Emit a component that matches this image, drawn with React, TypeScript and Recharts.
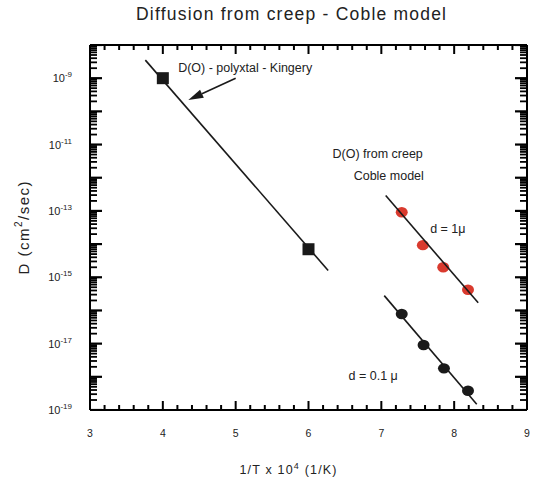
import React from "react";
import { ComposedChart, XAxis, YAxis, Scatter, ReferenceLine, ReferenceDot } from "recharts";

// x axis: 1/T x 10^4, labelled every 1, minor ticks every 0.2
const xLabels = [3, 4, 5, 6, 7, 8, 9];
const xMinorStep = 0.2;
// y axis: log scale, decades 1e-19 .. 1e-8, labels on odd exponents
const yDecades = [-19, -18, -17, -16, -15, -14, -13, -12, -11, -10, -9, -8];
const yLabelExps = [-19, -17, -15, -13, -11, -9];

// D(O) polycrystal - Kingery
const kingeryPts = [
  { x: 4.0, y: 1.0e-9 },
  { x: 6.0, y: 7.0e-15 },
];
const kingeryFit = [
  { x: 3.76, y: 3.5e-9 },
  { x: 6.27, y: 1.6e-15 },
];

// D(O) from creep, Coble model, d = 1 micron
const coble1Pts = [
  { x: 7.28, y: 9.1e-14 },
  { x: 7.57, y: 9.3e-15 },
  { x: 7.85, y: 2.0e-15 },
  { x: 8.19, y: 4.2e-16 },
];
const coble1Fit = [
  { x: 7.06, y: 2.9e-13 },
  { x: 8.33, y: 1.7e-16 },
];

// d = 0.1 micron
const coble01Pts = [
  { x: 7.28, y: 7.8e-17 },
  { x: 7.58, y: 9.1e-18 },
  { x: 7.86, y: 1.8e-18 },
  { x: 8.19, y: 3.8e-19 },
];
const coble01Fit = [
  { x: 7.04, y: 2.8e-16 },
  { x: 8.31, y: 1.5e-19 },
];

// arrow pointing at the Kingery line
const arrowSeg = [
  { x: 5.0, y: 1.0e-9 },
  { x: 4.35, y: 2.2e-10 },
];

const FONT = "'Liberation Sans', Arial, Helvetica, sans-serif";
const RED = "#d93a2e";
const INK = "#1a1a1a";
const X_MIN = 3;
const X_MAX = 9;
const Y_MIN = 1e-19;
const Y_MAX = 1e-8;

const xTicks: number[] = [];
for (let v = xLabels[0]; v <= xLabels[xLabels.length - 1] + 1e-9; v += xMinorStep) {
  xTicks.push(Math.round(v * 10) / 10);
}
const yTicks: number[] = [];
yDecades.forEach((e, i) => {
  const top = i === yDecades.length - 1;
  for (let m = 1; m <= (top ? 1 : 9); m++) yTicks.push(m * Math.pow(10, e));
});
const yLabelTicks = yLabelExps.map((e) => Math.pow(10, e));

const decadeOf = (v: number) => Math.floor(Math.log10(v) + 1e-9);
const isDecade = (v: number) => Math.abs(v / Math.pow(10, decadeOf(v)) - 1) < 0.01;
const isWhole = (v: number) => Math.abs(v - Math.round(v)) < 1e-6;

// anchor points for the inward tick marks on the four sides of the frame
const leftTickPts = yTicks.map((v) => ({ x: X_MIN, y: v, major: isDecade(v) }));
const rightTickPts = yTicks.map((v) => ({ x: X_MAX, y: v, major: isDecade(v) }));
const bottomTickPts = xTicks.map((v) => ({ x: v, y: Y_MIN, major: isWhole(v) }));
const topTickPts = xTicks.map((v) => ({ x: v, y: Y_MAX, major: isWhole(v) }));

const tickDir = (dx: number, dy: number) => (p: any) => {
  const major = p.payload && p.payload.major;
  const len = dx !== 0 ? (major ? 12 : 7) : major ? 9 : 5;
  const w = dx !== 0 ? (major ? 2.2 : 1.8) : 2;
  return <line x1={p.cx} y1={p.cy} x2={p.cx + dx * len} y2={p.cy + dy * len} stroke="#000" strokeWidth={w} />;
};

const LeftLabel = (props: any) => {
  const { x, y, payload } = props;
  const exp = decadeOf(payload.value);
  return (
    <text x={x - 18} y={y + 4} textAnchor="end" fontFamily={FONT} fontSize={11} fill="#222">
      10
      <tspan dy={-5} fontSize={8}>
        {exp}
      </tspan>
    </text>
  );
};

const BottomLabel = (props: any) => {
  const { x, y, payload } = props;
  return (
    <text x={x} y={y + 27} textAnchor="middle" fontFamily={FONT} fontSize={10.5} fill="#222">
      {Math.round(payload.value)}
    </text>
  );
};

const Square = (p: any) => <rect x={p.cx - 6} y={p.cy - 6} width={12} height={12} fill={INK} />;
const RedDot = (p: any) => <ellipse cx={p.cx} cy={p.cy} rx={6} ry={5.2} fill={RED} />;
const BlackDot = (p: any) => <ellipse cx={p.cx} cy={p.cy} rx={6} ry={5.2} fill={INK} />;
const NoShape = () => <g />;

const Arrow = (p: any) => {
  const { x1, y1, x2, y2 } = p;
  const ang = Math.atan2(y2 - y1, x2 - x1);
  const len = 15;
  const half = 4.5;
  const bx = x2 - len * Math.cos(ang);
  const by = y2 - len * Math.sin(ang);
  const nx = -Math.sin(ang) * half;
  const ny = Math.cos(ang) * half;
  return (
    <g>
      <line x1={x1} y1={y1} x2={bx} y2={by} stroke={INK} strokeWidth={1.6} />
      <polygon points={`${x2},${y2} ${bx + nx},${by + ny} ${bx - nx},${by - ny}`} fill={INK} />
    </g>
  );
};

const note = (text: string) => (p: any) => (
  <text x={p.cx} y={p.cy} dominantBaseline="central" fontFamily={FONT} fontSize={12.5} fill="#222">
    {text}
  </text>
);

const TitleLabel = (p: any) => {
  const vb = p.viewBox;
  return (
    <text x={vb.x + 201} y={20} textAnchor="middle" fontFamily={FONT} fontSize={17.5} fill="#222" textLength={310} lengthAdjust="spacing">
      Diffusion from creep - Coble model
    </text>
  );
};

const XLabel = (p: any) => {
  const vb = p.viewBox;
  return (
    <text x={vb.x + 198} y={vb.y + 64} textAnchor="middle" fontFamily={FONT} fontSize={12.5} fill="#222" textLength={97} lengthAdjust="spacing">
      {"1/T  x 10"}
      <tspan dy={-5} fontSize={9}>4</tspan>
      <tspan dy={5}>{" (1/K)"}</tspan>
    </text>
  );
};

const YLabel = (p: any) => {
  const vb = p.viewBox;
  const cx = vb.x - 7;
  const cy = 228;
  return (
    <text
      x={cx}
      y={cy}
      transform={`rotate(-90, ${cx}, ${cy})`}
      textAnchor="middle"
      dominantBaseline="central"
      fontFamily={FONT}
      fontSize={15}
      fill="#222"
      textLength={93}
      lengthAdjust="spacing"
    >
      {"D (cm"}
      <tspan dy={-5} fontSize={10}>2</tspan>
      <tspan dy={5}>/sec)</tspan>
    </text>
  );
};

const axisLine = { stroke: "#000", strokeWidth: 2 };

export default function App() {
  return (
    <div style={{ width: 540, height: 478, background: "#fff" }}>
      <style>{"body{margin:0}"}</style>
      <ComposedChart width={540} height={478} margin={{ top: 44, right: 12, bottom: 38, left: 30 }}>
        <XAxis
          dataKey="x"
          type="number"
          domain={[X_MIN, X_MAX]}
          ticks={xLabels}
          interval={0}
          allowDataOverflow
          tickSize={0}
          tickMargin={0}
          tickLine={false}
          axisLine={axisLine}
          tick={<BottomLabel />}
          height={30}
          label={{ content: XLabel }}
        />
        <XAxis
          xAxisId="top"
          dataKey="x"
          orientation="top"
          type="number"
          domain={[X_MIN, X_MAX]}
          allowDataOverflow
          tick={false}
          tickLine={false}
          axisLine={axisLine}
          height={1}
          label={{ content: TitleLabel }}
        />
        <YAxis
          dataKey="y"
          type="number"
          scale="log"
          domain={[Y_MIN, Y_MAX]}
          ticks={yLabelTicks}
          interval={0}
          allowDataOverflow
          tickSize={0}
          tickMargin={0}
          tickLine={false}
          axisLine={axisLine}
          tick={<LeftLabel />}
          width={60}
          label={{ content: YLabel }}
        />
        <YAxis
          yAxisId="right"
          dataKey="y"
          orientation="right"
          type="number"
          scale="log"
          domain={[Y_MIN, Y_MAX]}
          allowDataOverflow
          tick={false}
          tickLine={false}
          axisLine={axisLine}
          width={1}
        />

        <Scatter data={leftTickPts} shape={tickDir(1, 0)} isAnimationActive={false} />
        <Scatter data={rightTickPts} shape={tickDir(-1, 0)} isAnimationActive={false} />
        <Scatter data={bottomTickPts} shape={tickDir(0, -1)} isAnimationActive={false} />
        <Scatter data={topTickPts} shape={tickDir(0, 1)} isAnimationActive={false} />

        <Scatter data={kingeryPts} shape={Square} isAnimationActive={false} />
        <Scatter data={coble1Pts} shape={RedDot} isAnimationActive={false} />
        <Scatter data={coble01Pts} shape={BlackDot} isAnimationActive={false} />

        <Scatter data={kingeryFit} line={{ stroke: INK, strokeWidth: 1.6 }} shape={NoShape} isAnimationActive={false} />
        <Scatter data={coble1Fit} line={{ stroke: INK, strokeWidth: 1.6 }} shape={NoShape} isAnimationActive={false} />
        <Scatter
          data={coble01Fit}
          xAxisId="top"
          yAxisId="right"
          line={{ stroke: INK, strokeWidth: 1.6 }}
          shape={NoShape}
          isAnimationActive={false}
        />

        <ReferenceLine segment={arrowSeg} shape={Arrow} ifOverflow="visible" />

        <ReferenceDot x={4.21} y={2.0e-9} r={0} shape={note("D(O) - polyxtal - Kingery")} />
        <ReferenceDot x={6.33} y={5.1e-12} r={0} shape={note("D(O) from creep")} />
        <ReferenceDot x={6.62} y={1.15e-12} r={0} shape={note("Coble model")} />
        <ReferenceDot x={7.67} y={2.8e-14} r={0} shape={note("d = 1\u03bc")} />
        <ReferenceDot x={6.55} y={1.05e-18} r={0} shape={note("d = 0.1 \u03bc")} />
      </ComposedChart>
    </div>
  );
}
